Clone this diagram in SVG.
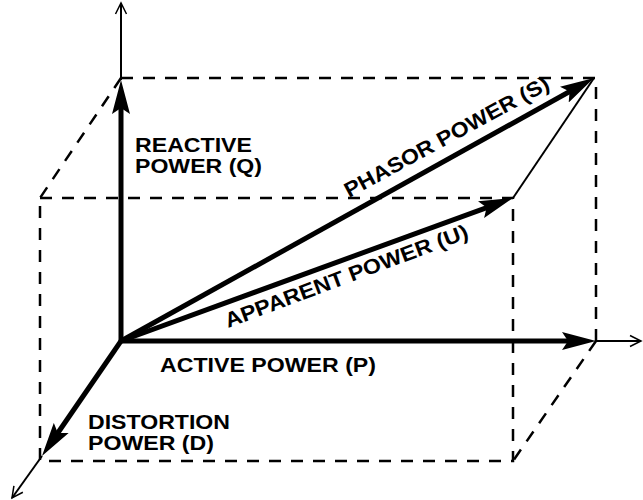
<svg xmlns="http://www.w3.org/2000/svg" width="643" height="500" viewBox="0 0 643 500">
<style>
.dash{fill:none;stroke:#000;stroke-width:2.5;stroke-dasharray:12 10}
.thick{fill:none;stroke:#000;stroke-width:5}
.thin{fill:none;stroke:#000;stroke-width:2}
.lbl{font-family:"Liberation Sans",Arial,Helvetica,sans-serif;font-weight:bold;font-size:21px;fill:#000}
</style>
<defs>
<marker id="fh" markerUnits="userSpaceOnUse" markerWidth="40" markerHeight="20" refX="20" refY="10" orient="auto" viewBox="0 0 40 20">
<path d="M0,1 L34,10 L0,19 L6,10 Z" fill="#000"/>
</marker>
<marker id="oh" markerUnits="userSpaceOnUse" markerWidth="14" markerHeight="14" refX="12" refY="7" orient="auto" viewBox="0 0 14 14">
<path d="M1,1.5 L12,7 L1,12.5" fill="none" stroke="#000" stroke-width="1.5"/>
</marker>
</defs>
<g id="box">
<path class="dash" d="M121,78 H596 V341"/>
<path class="dash" d="M121,78 L40,198"/>
<path class="dash" d="M40,198 H513 V461 H40 Z"/>
<path class="dash" d="M596,341 L513,461"/>
<path class="thin" d="M513,198 L594,78"/>
</g>
<g id="connectors">
<line class="thin" x1="121" y1="80" x2="121" y2="3" marker-end="url(#oh)"/>
<line class="thin" x1="596" y1="341" x2="641" y2="341" marker-end="url(#oh)"/>
<line class="thin" x1="42" y1="456" x2="12" y2="498" marker-end="url(#oh)"/>
<line class="thick" x1="121" y1="341" x2="121" y2="94" marker-end="url(#fh)"/>
<line class="thick" x1="121" y1="341" x2="582" y2="341" marker-end="url(#fh)"/>
<line class="thick" x1="121" y1="341" x2="49.9" y2="444.5" marker-end="url(#fh)"/>
<line class="thick" x1="121" y1="341" x2="581.8" y2="84.8" marker-end="url(#fh)"/>
<line class="thick" x1="121" y1="341" x2="499.8" y2="202.8" marker-end="url(#fh)"/>
</g>
<g id="reactive">
<text class="lbl"><tspan x="135" y="152" textLength="117" lengthAdjust="spacingAndGlyphs">REACTIVE</tspan><tspan x="135" y="173" textLength="127" lengthAdjust="spacingAndGlyphs">POWER (Q)</tspan></text>
</g>
<g id="active">
<text class="lbl" x="160" y="372" textLength="216" lengthAdjust="spacingAndGlyphs">ACTIVE POWER (P)</text>
</g>
<g id="distortion">
<text class="lbl"><tspan x="88" y="429" textLength="142" lengthAdjust="spacingAndGlyphs">DISTORTION</tspan><tspan x="88" y="450" textLength="126" lengthAdjust="spacingAndGlyphs">POWER (D)</tspan></text>
</g>
<g id="phasor">
<text class="lbl" transform="translate(349,198) rotate(-28.5)" x="0" y="0" textLength="230" lengthAdjust="spacingAndGlyphs">PHASOR POWER (S)</text>
</g>
<g id="apparent">
<text class="lbl" transform="translate(228,328) rotate(-20.5)" x="0" y="0" textLength="258" lengthAdjust="spacingAndGlyphs">APPARENT POWER (U)</text>
</g>
</svg>
